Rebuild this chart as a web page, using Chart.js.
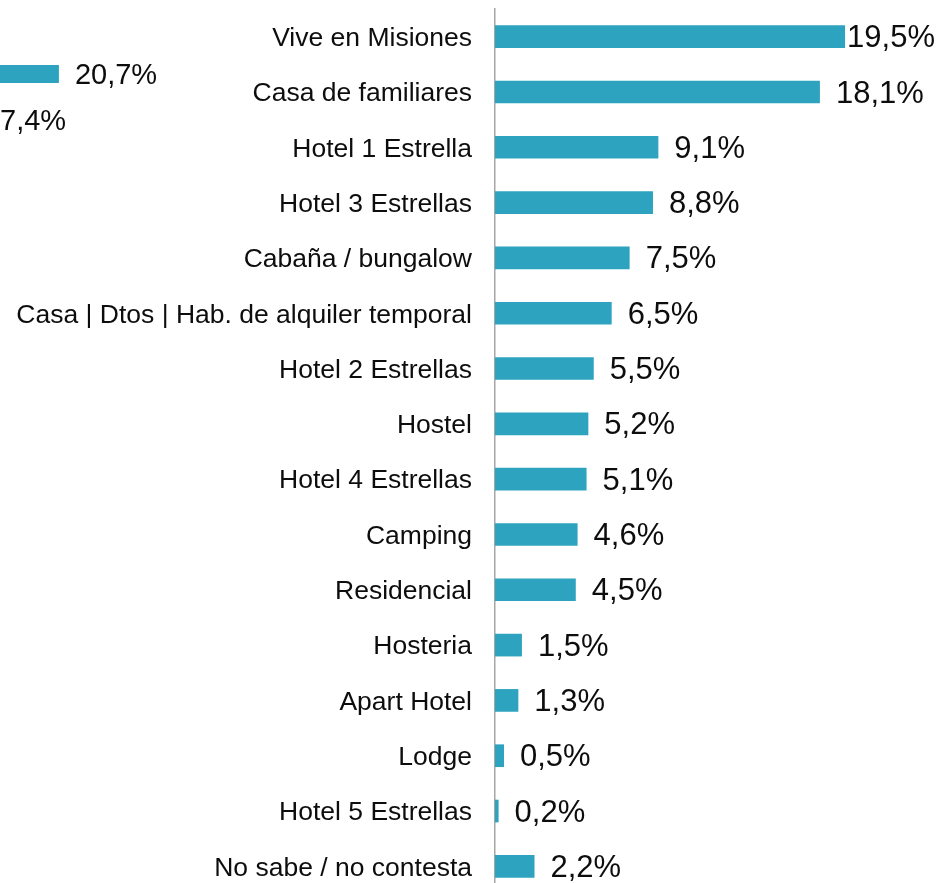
<!DOCTYPE html>
<html>
<head>
<meta charset="utf-8">
<script src="https://cdn.jsdelivr.net/npm/chart.js@4"></script>
<style>
  html, body { margin: 0; padding: 0; background: #fff; overflow: hidden; width: 942px; height: 883px; }
  #main { position: absolute; left: 0; top: 0; }
  #frag { position: absolute; left: -512px; top: 51px; }
</style>
</head>
<body>
<canvas id="frag" width="700" height="92"></canvas>
<canvas id="main" width="942" height="894"></canvas>
<script>
const categories = [
    'Vive en Misiones', 'Casa de familiares', 'Hotel 1 Estrella', 'Hotel 3 Estrellas',
    'Cabaña / bungalow', 'Casa | Dtos | Hab. de alquiler temporal', 'Hotel 2 Estrellas',
    'Hostel', 'Hotel 4 Estrellas', 'Camping', 'Residencial', 'Hosteria', 'Apart Hotel',
    'Lodge', 'Hotel 5 Estrellas', 'No sabe / no contesta'
];
const values = [19.5, 18.1, 9.1, 8.8, 7.5, 6.5, 5.5, 5.2, 5.1, 4.6, 4.5, 1.5, 1.3, 0.5, 0.2, 2.2];

// piece of a neighbouring chart, cut off at the left edge
const fragCategories = ['', ''];
const fragValues = [20.7, 17.4];

const barColor = '#2EA3C0';
const fontFamily = '"Liberation Sans", Arial, sans-serif';

const fmt = v => v.toFixed(1).replace('.', ',') + '%';

// value labels to the right of each bar
const valueLabels = {
    id: 'valueLabels',
    afterDatasetsDraw(chart, args, opts) {
        const ctx = chart.ctx;
        const meta = chart.getDatasetMeta(0);
        const data = chart.data.datasets[0].data;
        ctx.save();
        ctx.font = (opts.size || 30) + 'px ' + fontFamily;
        ctx.fillStyle = '#0d0d0d';
        ctx.textBaseline = 'middle';
        ctx.textAlign = 'left';
        meta.data.forEach((bar, i) => {
            const txt = fmt(data[i]);
            const w = ctx.measureText(txt).width;
            let x = bar.x + 16;
            if (x + w > chart.width - 7) x = chart.width - 7 - w;
            ctx.fillText(txt, x, bar.y + 2);
        });
        ctx.restore();
    }
};

new Chart(document.getElementById('main').getContext('2d'), {
    type: 'bar',
    data: {
        labels: categories,
        datasets: [{
            data: values,
            backgroundColor: barColor,
            borderWidth: 0,
            categoryPercentage: 1,
            barPercentage: 0.41
        }]
    },
    options: {
        indexAxis: 'y',
        responsive: false,
        animation: false,
        devicePixelRatio: 1,
        layout: { padding: { top: 9, bottom: 0, left: 0, right: 0 } },
        plugins: {
            legend: { display: false },
            tooltip: { enabled: false },
            valueLabels: { size: 31 }
        },
        scales: {
            x: { display: false, min: 0, max: 24.9 },
            y: {
                afterFit: s => { s.width = 495; s.paddingTop = 0; s.paddingBottom = 0; },
                grid: { display: false, drawTicks: false },
                border: { display: true, color: '#a6a6a6', width: 1.5 },
                ticks: {
                    color: '#0d0d0d',
                    padding: 23,
                    labelOffset: 2,
                    font: { family: fontFamily, size: 26.5 }
                }
            }
        }
    },
    plugins: [valueLabels]
});

new Chart(document.getElementById('frag').getContext('2d'), {
    type: 'bar',
    data: {
        labels: fragCategories,
        datasets: [{
            data: fragValues,
            backgroundColor: barColor,
            borderWidth: 0,
            categoryPercentage: 1,
            barPercentage: 0.39
        }]
    },
    options: {
        indexAxis: 'y',
        responsive: false,
        animation: false,
        devicePixelRatio: 1,
        layout: { padding: 0 },
        plugins: {
            legend: { display: false },
            tooltip: { enabled: false },
            valueLabels: { size: 29 }
        },
        scales: {
            x: { display: false, min: 0, max: 25.38 },
            y: { display: false }
        }
    },
    plugins: [valueLabels]
});
</script>
</body>
</html>
